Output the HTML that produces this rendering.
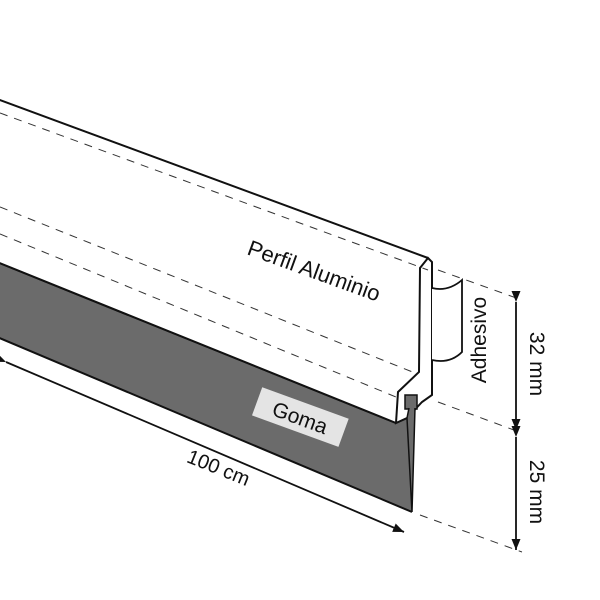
<!DOCTYPE html>
<html><head><meta charset="utf-8"><style>
body{margin:0;background:#fff;}
svg{display:block;}
text{font-family:"Liberation Sans",sans-serif;fill:#111;}
</style></head><body>
<svg width="600" height="600" viewBox="0 0 600 600" xmlns="http://www.w3.org/2000/svg">
<defs>
<marker id="ah" markerWidth="12" markerHeight="12" refX="11" refY="5" orient="auto" markerUnits="userSpaceOnUse">
<path d="M0,0.5 L11,5 L0,9.5 z" fill="#111"/></marker>
</defs>
<!-- rubber -->
<polygon points="-3,262 396,423 407,418 412,512 -3,337" fill="#6b6b6b"/>
<path d="M-3,262 L396,423 M412,512 L-3,337" stroke="#111" stroke-width="2" fill="none"/>
<!-- profile face -->
<polygon points="-3,99 428,258 420,268 419,372 398,392 396,423 -3,262" fill="#fff"/>
<path d="M-3,99 L428,258 M-3,262 L396,423" stroke="#111" stroke-width="2" fill="none"/>
<!-- end cap -->
<path d="M428,258 L432,262 L432,395 L422,402 L407,418 L396,423 L398,392 L419,372 L420,268 Z" fill="#fff" stroke="#111" stroke-width="2"/>
<rect x="405" y="395" width="12" height="14" fill="#6b6b6b" stroke="#111" stroke-width="1.5"/>
<path d="M409,408 L407,418 L412,512 L415,408" fill="#6b6b6b" stroke="#111" stroke-width="1.5"/>
<!-- adhesive -->
<path d="M432,288 Q448,292 462,280 L462,352 Q450,364 432,360" fill="#fff" stroke="#111" stroke-width="1.8"/>
<!-- dashed lines -->
<g stroke="#333" stroke-width="1" stroke-dasharray="8,7" fill="none">
<line x1="0" y1="113" x2="428" y2="270"/>
<line x1="0" y1="207" x2="415" y2="373"/>
<line x1="0" y1="234" x2="396" y2="397"/>
<line x1="438" y1="270" x2="522" y2="300"/>
<line x1="438" y1="402" x2="522" y2="433"/>
<line x1="420" y1="515" x2="522" y2="552"/>
</g>
<!-- dimensions -->
<line x1="516" y1="302" x2="516" y2="430" stroke="#111" stroke-width="1.8" marker-start="url(#ah)" marker-end="url(#ah)"/>
<line x1="516" y1="437" x2="516" y2="550" stroke="#111" stroke-width="1.8" marker-start="url(#ah)" marker-end="url(#ah)"/>
<line x1="6" y1="362" x2="404" y2="532" stroke="#111" stroke-width="1.8" marker-start="url(#ah)" marker-end="url(#ah)"/>
<!-- labels -->
<text x="246" y="254" font-size="22" transform="rotate(20 246 254)">Perfil Aluminio</text>
<g transform="rotate(20 300 418)"><rect x="254" y="402" width="92" height="30" fill="#e4e4e4"/>
<text x="300" y="425" font-size="21" text-anchor="middle">Goma</text></g>
<text x="216" y="474" font-size="20" text-anchor="middle" transform="rotate(22 216 474)">100 cm</text>
<text x="486" y="340" font-size="21" text-anchor="middle" transform="rotate(-90 486 340)">Adhesivo</text>
<text x="530" y="364" font-size="21" text-anchor="middle" transform="rotate(90 530 364)">32 mm</text>
<text x="530" y="492" font-size="21" text-anchor="middle" transform="rotate(90 530 492)">25 mm</text>
</svg>
</body></html>
